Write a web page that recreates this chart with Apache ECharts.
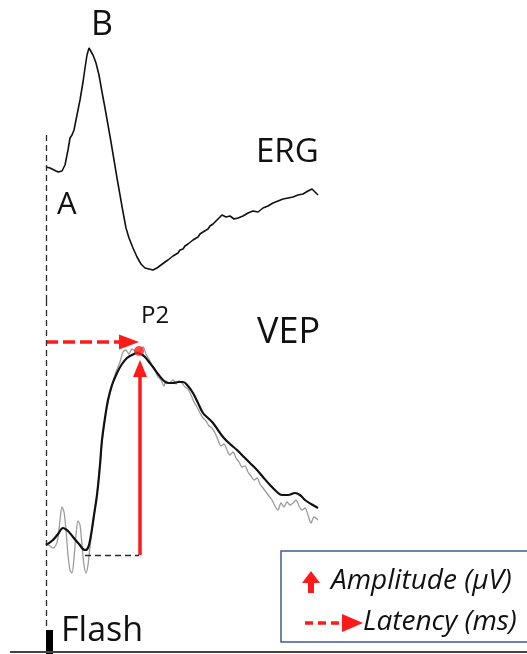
<!DOCTYPE html>
<html>
<head>
<meta charset="UTF-8">
<title>ERG / VEP</title>
<script src="https://cdn.jsdelivr.net/npm/echarts@6/dist/echarts.min.js"></script>
<style>
  html, body { margin: 0; padding: 0; background: #fff; }
  #chart { width: 527px; height: 654px; }
</style>
</head>
<body>
<div id="chart"></div>
<script>
// time in ms after flash, amplitude in uV
var ergTrace = [
  [0,3],[4,2],[8,0],[12,-2],[16,-1],[19,5],[22,20],[24,32],[26,35],[28,40],[31,55],[34,70],
  [37,88],[39,102],[41,115],[43,122],[45,120],[47,115],[50,107],[53,95],[56,78],[59,62],
  [62,45],[65,28],[68,10],[71,-8],[74,-25],[77,-42],[80,-58],[83,-68],[87,-78],[91,-87],
  [95,-94],[99,-98],[101,-97],[103,-99],[105,-97],[107,-100],[111,-98],[115,-95],[119,-92],
  [122,-90],[124,-88],[127,-86],[129,-85],[132,-83],[134,-80],[137,-79],[139,-76],[142,-74],
  [144,-73],[147,-70],[149,-68],[152,-67],[154,-64],[157,-62],[159,-60],[162,-59],[164,-56],
  [167,-54],[169,-52],[172,-49],[174,-47],[176,-45],[178,-45],[180,-47],[182,-48],[184,-46],
  [186,-47],[188,-49],[190,-50],[192,-48],[194,-48],[197,-46],[199,-44],[202,-43],[204,-42],
  [207,-41],[209,-40],[212,-42],[214,-41],[217,-38],[219,-37],[222,-36],[224,-35],[227,-33],
  [229,-32],[232,-31],[234,-30],[237,-29],[239,-28],[242,-28],[244,-29],[247,-27],[249,-26],
  [252,-25],[254,-24],[257,-24],[259,-23],[262,-21],[264,-20],[266,-19],[268,-21],[270,-23],[272,-25]
];

var vepRaw = [
  [0,0.5],[4,-0.25],[7,-0.75],[10,0],[12,1.75],[14,6.25],[16,9.5],[18,8.25],[20,3.75],[22,-2.5],
  [24,-6.25],[26,-7],[28,-3.25],[30,2.5],[32,6],[34,5],[36,0],[38,-5],[40,-7],[42,-5],[44,-0.5],
  [46,3.75],[49,8.75],[52,15],[55,23.25],[58,30],[62,35.75],[66,39.75],[70,43.25],[74,45.75],
  [77,48.25],[80,48.75],[83,47.75],[86,49],[89,48.5],[93,48.25],[97,49.5],[100,47.75],[103,46.5],
  [106,45],[109,43.75],[112,42],[115,41.25],[118,39.75],[120,41],[123,40.5],[127,41.25],[130,40.25],
  [133,41],[136,40.5],[139,39.5],[142,39],[145,37.5],[148,35.75],[151,34.5],[154,33],[157,31.75],
  [160,31],[163,29.75],[166,29.25],[169,28],[172,26.25],[175,24.75],[178,25.25],[181,23.75],
  [184,22.5],[187,23.25],[190,21.75],[193,20.75],[196,19.5],[199,19.75],[202,18.25],[205,17.25],
  [208,16.25],[211,16.75],[214,15.25],[217,14.25],[220,13.25],[223,12.25],[226,11.25],[229,9.75],
  [232,8.75],[235,10.5],[238,9.5],[241,10.75],[244,10],[247,10.5],[250,11.25],[253,9.75],[256,8.75],
  [259,9.25],[262,7.5],[265,5.5],[268,7],[272,6.25]
];

var vepSmooth = [
  [0,0],[7,1.25],[12,2.75],[17,4.25],[22,3.5],[27,2],[33,0.25],[39,-1.25],[42,-0.75],[45,2.5],
  [48,7.5],[51,12.5],[54,20],[56,26.25],[59,31.75],[62,36.25],[66,40],[71,43],[76,45.25],
  [81,46.75],[86,47.5],[91,48],[95,47.75],[99,47],[103,45.75],[107,44.5],[112,42.75],[117,41.25],
  [122,40.5],[127,40.5],[132,40.75],[137,40.75],[142,39.75],[147,38],[152,35.5],[157,33],
  [162,31.75],[167,30.5],[172,28.75],[177,27],[184,25.25],[191,23.75],[198,22],[204,20.5],
  [211,18.75],[217,17],[224,15],[231,13.25],[236,12.5],[242,12.5],[249,13],[254,12.5],
  [259,11.25],[265,10.25],[272,9.25]
];

var p2Peak = [93, 48.5];
var p2Baseline = -2.5;
var onsetTime = 39;

var chart = echarts.init(document.getElementById('chart'));
var font = '"Open Sans"';
var red = '#ff1a1a';

function label(text, x, y, size, extra) {
  return {
    type: 'text', x: x, y: y,
    style: { text: text, font: (extra || '') + size + 'px ' + font, fill: '#111',
             align: 'left', verticalAlign: 'middle' }
  };
}

var option = {
  animation: false,
  grid: [
    { left: 46, right: 0, top: 0, height: 300 },
    { left: 46, right: 0, top: 300, bottom: 0 }
  ],
  xAxis: [
    { type: 'value', gridIndex: 0, min: 0, max: 481, show: false },
    { type: 'value', gridIndex: 1, min: 0, max: 481, show: false }
  ],
  yAxis: [
    { type: 'value', gridIndex: 0, min: -130, max: 170, show: false },
    { type: 'value', gridIndex: 1, min: -27.25, max: 61.25, show: false }
  ],
  series: [
    {
      name: 'ERG', type: 'line', xAxisIndex: 0, yAxisIndex: 0,
      data: ergTrace, showSymbol: false,
      lineStyle: { color: '#111', width: 1.6 },
      markLine: {
        silent: true, symbol: 'none',
        lineStyle: { color: '#2a2a2a', width: 1.3, type: [6, 4] },
        data: [[{ coord: [0, 35] }, { coord: [0, -130] }]],
        label: { show: false }
      }
    },
    {
      name: 'VEP raw', type: 'line', xAxisIndex: 1, yAxisIndex: 1,
      data: vepRaw, showSymbol: false, smooth: 0.3,
      lineStyle: { color: '#9b9b9b', width: 1.3 }
    },
    {
      name: 'VEP', type: 'line', xAxisIndex: 1, yAxisIndex: 1,
      data: vepSmooth, showSymbol: false, smooth: 0.4,
      lineStyle: { color: '#111', width: 2.2 },
      markLine: {
        silent: true, symbol: 'none', label: { show: false },
        lineStyle: { color: '#2a2a2a', width: 1.3, type: [6, 4] },
        data: [
          [{ coord: [0, 61.25] }, { coord: [0, -21.25] }],
          [{ coord: [onsetTime, p2Baseline] }, { coord: [p2Peak[0], p2Baseline] }]
        ]
      }
    },
    {
      name: 'P2', type: 'scatter', xAxisIndex: 1, yAxisIndex: 1,
      data: [p2Peak], symbolSize: 10, itemStyle: { color: red }, z: 5,
      markLine: {
        silent: true, label: { show: false }, z: 4,
        symbol: ['none', 'triangle'],
        data: [
          [{ coord: [0, 50.75], lineStyle: { type: [12, 5] } },
           { coord: [p2Peak[0] - 10, 50.75], symbolSize: [15, 20] }],
          [{ coord: [p2Peak[0] + 1, p2Baseline], lineStyle: { type: 'solid' } },
           { coord: [p2Peak[0] + 1, 44.1], symbolSize: [14, 17] }]
        ],
        lineStyle: { color: red, width: 3.5, opacity: 1 },
        itemStyle: { color: red }
      }
    }
  ],
  graphic: [
    label('B', 91, 25, 34),
    label('ERG', 256, 153, 33),
    label('A', 57, 205, 31),
    label('P2', 141, 316, 24),
    label('VEP', 257, 333, 36),
    label('Flash', 61, 631, 34),
    { type: 'rect', shape: { x: 46, y: 630, width: 7, height: 24 }, style: { fill: '#000' } },
    { type: 'line', shape: { x1: 10, y1: 652, x2: 527, y2: 652 }, style: { stroke: '#444', lineWidth: 2 } },
    // legend
    { type: 'rect', shape: { x: 281, y: 551, width: 260, height: 91 },
      style: { fill: '#fff', stroke: '#3c5b9a', lineWidth: 1.5 } },
    { type: 'polygon', shape: { points: [[311, 571], [302, 583], [320, 583]] }, style: { fill: red } },
    { type: 'rect', shape: { x: 308, y: 582, width: 6, height: 11 }, style: { fill: red } },
    label('Amplitude (\u03bcV)', 331, 581, 28, 'italic '),
    { type: 'line', shape: { x1: 305, y1: 623, x2: 344, y2: 623 },
      style: { stroke: red, lineWidth: 3.5, lineDash: [8, 5] } },
    { type: 'polygon', shape: { points: [[342, 614], [342, 632], [363, 623]] }, style: { fill: red } },
    label('Latency (ms)', 363, 622, 28, 'italic ')
  ]
};
chart.setOption(option);
</script>
</body>
</html>
